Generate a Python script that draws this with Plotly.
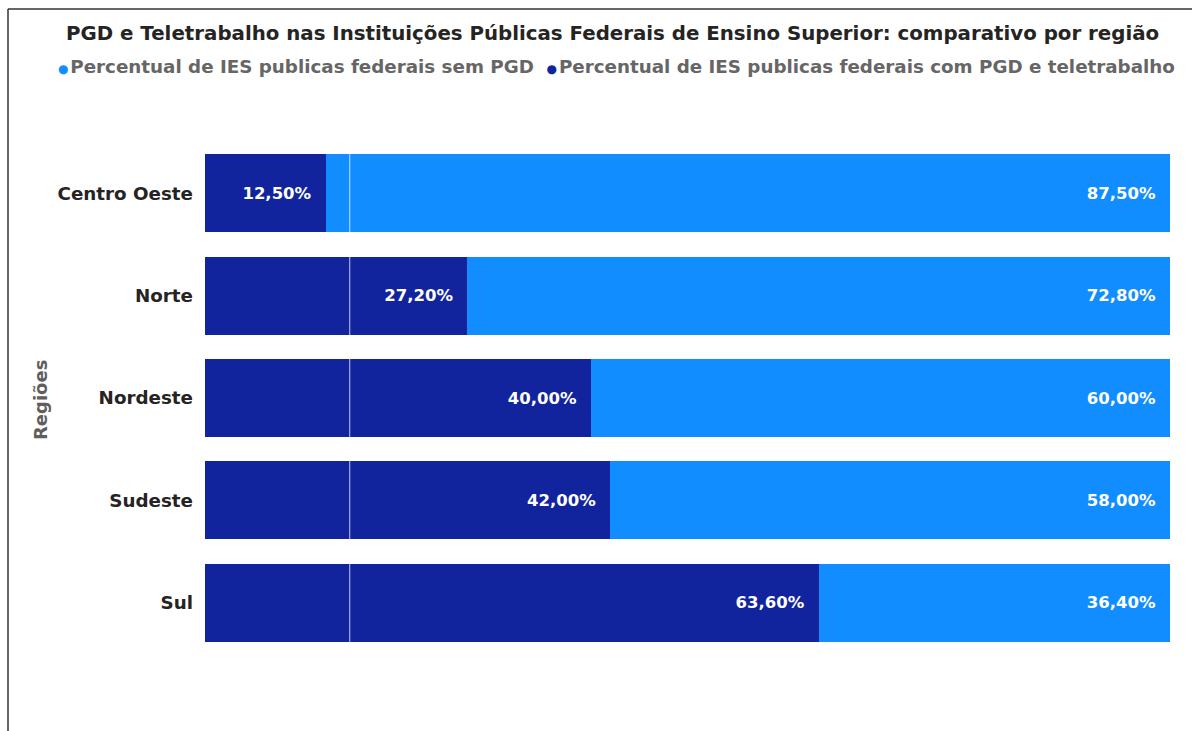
import plotly.graph_objects as go

regioes = ["Centro Oeste", "Norte", "Nordeste", "Sudeste", "Sul"]
com_pgd = [12.5, 27.2, 40.0, 42.0, 63.6]
sem_pgd = [87.5, 72.8, 60.0, 58.0, 36.4]
nome_sem = "Percentual de IES publicas federais sem PGD"
nome_com = "Percentual de IES publicas federais com PGD e teletrabalho"
titulo = "PGD e Teletrabalho nas Instituições Públicas Federais de Ensino Superior: comparativo por região"
eixo_y = "Regiões"

DARK = "#12239E"
LIGHT = "#118DFF"
FONT = "DejaVu Sans"
pad = "\u00a0\u00a0"

fig = go.Figure()
fig.add_trace(go.Bar(
    y=regioes, x=com_pgd, orientation="h", name=nome_com,
    marker=dict(color=DARK, line=dict(width=0)),
    texttemplate="%{x:.2f}%" + pad, textposition="inside", insidetextanchor="end",
    textfont=dict(family=FONT, size=16.5, color="white", weight="bold"),
))
fig.add_trace(go.Bar(
    y=regioes, x=sem_pgd, orientation="h", name=nome_sem,
    marker=dict(color=LIGHT, line=dict(width=0)),
    texttemplate="%{x:.2f}%" + pad, textposition="inside", insidetextanchor="end",
    textfont=dict(family=FONT, size=16.5, color="white", weight="bold"),
))

L, R, T, B = 205, 22, 142, 77
W, H = 1192, 731
pw = W - L - R
ph = H - T - B

def px2x(px):
    return (px - L) / pw

def py2y(py):
    return 1 - (py - T) / ph

dot = "<span style='color:{c};font-size:12px'>●</span>\u200a"
legend_text = (dot.format(c=LIGHT) + nome_sem + "\u00a0\u00a0" + dot.format(c=DARK) + nome_com)

fig.update_layout(
    width=W, height=H,
    barmode="stack", bargap=0.24,
    separators=",.",
    showlegend=False,
    paper_bgcolor="white", plot_bgcolor="white",
    margin=dict(l=L, r=R, t=T, b=B),
    font=dict(family=FONT),
    uniformtext=dict(mode="show", minsize=16.5),
    xaxis=dict(range=[0, 100], visible=False, showgrid=False, zeroline=False, fixedrange=True),
    yaxis=dict(
        categoryorder="array", categoryarray=regioes, autorange="reversed",
        showgrid=False, zeroline=False, showline=False, ticks="",
        ticklabelstandoff=11,
        tickfont=dict(family=FONT, size=18.3, color="#252423", weight="bold"),
    ),
    shapes=[
        dict(type="line", xref="x", yref="paper", x0=15, x1=15, y0=py2y(150), y1=py2y(646),
             line=dict(color="rgba(255,255,255,0.75)", width=1), layer="above"),
        dict(type="line", xref="paper", yref="paper", x0=px2x(8), x1=px2x(8), y0=py2y(9), y1=py2y(731),
             line=dict(color="#333333", width=1.5)),
        dict(type="line", xref="paper", yref="paper", x0=px2x(8), x1=px2x(1192), y0=py2y(9), y1=py2y(9),
             line=dict(color="#333333", width=1.5)),
    ],
    annotations=[
        dict(text=titulo, xref="paper", yref="paper", x=px2x(64), y=py2y(33),
             xanchor="left", yanchor="middle", showarrow=False,
             font=dict(family=FONT, size=19.8, color="#252423", weight="bold")),
        dict(text=legend_text,
             xref="paper", yref="paper", x=px2x(56), y=py2y(66),
             xanchor="left", yanchor="middle", showarrow=False,
             font=dict(family=FONT, size=18.3, color="#666666", weight="bold")),
        dict(text=eixo_y, xref="paper", yref="paper", x=px2x(40), y=py2y(400),
             xanchor="center", yanchor="middle", showarrow=False, textangle=-90,
             font=dict(family=FONT, size=18, color="#605E5C", weight="bold")),
    ],
)

fig.write_html("out.html")
